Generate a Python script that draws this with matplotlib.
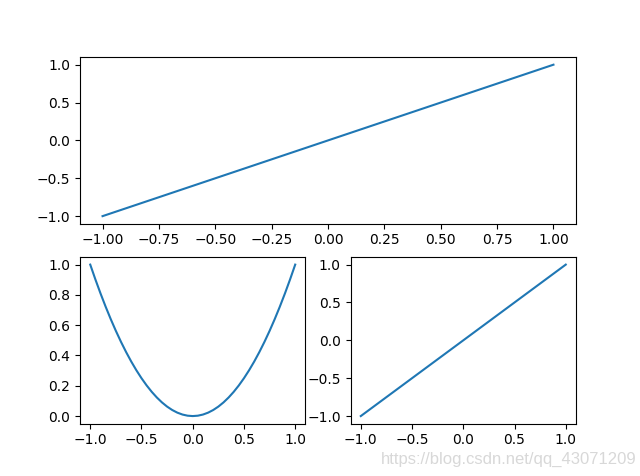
import matplotlib
matplotlib.use("Agg")
import matplotlib.pyplot as plt

# values
x_top = [-1.0, 1.0]
y_top = [-1.0, 1.0]

x_par = [-1.0, -0.95, -0.9, -0.85, -0.8, -0.75, -0.7, -0.65, -0.6, -0.55,
         -0.5, -0.45, -0.4, -0.35, -0.3, -0.25, -0.2, -0.15, -0.1, -0.05, 0.0,
         0.05, 0.1, 0.15, 0.2, 0.25, 0.3, 0.35, 0.4, 0.45, 0.5,
         0.55, 0.6, 0.65, 0.7, 0.75, 0.8, 0.85, 0.9, 0.95, 1.0]
y_par = [1.0, 0.9025, 0.81, 0.7225, 0.64, 0.5625, 0.49, 0.4225, 0.36, 0.3025,
         0.25, 0.2025, 0.16, 0.1225, 0.09, 0.0625, 0.04, 0.0225, 0.01, 0.0025, 0.0,
         0.0025, 0.01, 0.0225, 0.04, 0.0625, 0.09, 0.1225, 0.16, 0.2025, 0.25,
         0.3025, 0.36, 0.4225, 0.49, 0.5625, 0.64, 0.7225, 0.81, 0.9025, 1.0]
par_yticks = [0.0, 0.2, 0.4, 0.6, 0.8, 1.0]

x_lin = [-1.0, 1.0]
y_lin = [-1.0, 1.0]

watermark = "https://blog.csdn.net/qq_43071209"

fig = plt.figure(figsize=(6.4, 4.76), dpi=100)
ax1 = fig.add_subplot(2, 1, 1)
ax1.plot(x_top, y_top)
ax2 = fig.add_subplot(2, 2, 3)
ax2.plot(x_par, y_par)
ax2.set_yticks(par_yticks)
ax3 = fig.add_subplot(2, 2, 4)
ax3.plot(x_lin, y_lin)

fig.text(0.995, 0.018, watermark, ha="right", va="bottom",
         fontsize=12, color="#d8d8d8", family="Liberation Sans")

fig.savefig("out.png", dpi=100)
